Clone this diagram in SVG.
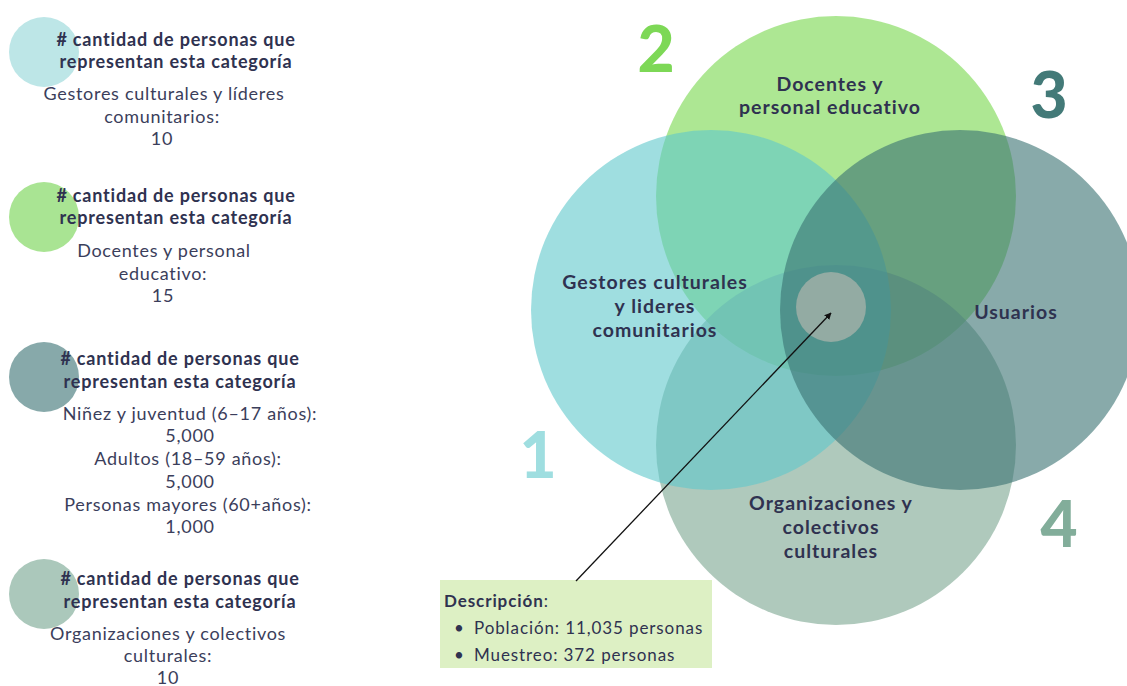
<svg xmlns="http://www.w3.org/2000/svg" width="1127" height="686" viewBox="0 0 1127 686">
<style>
.hdr{font-family:Lato,"Liberation Sans",sans-serif;font-weight:700;font-size:18px;fill:#2f3250;text-anchor:middle;letter-spacing:0.8px}
.txt{font-family:Lato,"Liberation Sans",sans-serif;font-size:18px;fill:#3b3e5b;text-anchor:middle;letter-spacing:0.7px}
.lbl{font-family:Lato,"Liberation Sans",sans-serif;font-weight:700;font-size:19.5px;fill:#2f3250;text-anchor:middle;letter-spacing:1px}
.num{font-family:Lato,"Liberation Sans",sans-serif;font-weight:900;font-size:64px;text-anchor:middle}
.ell{fill-opacity:0.6}
.desc{font-family:Lato,"Liberation Sans",sans-serif;font-size:17px;fill:#2f3250;letter-spacing:0.9px}
</style>
<defs>
<marker id="ah" viewBox="0 0 10 10" refX="9" refY="5" markerWidth="7" markerHeight="7" orient="auto-start-reverse" markerUnits="userSpaceOnUse">
<path d="M0,0 L10,5 L0,10 z" fill="#111"/>
</marker>
</defs>
<rect width="1127" height="686" fill="#ffffff"/>

<g id="legend1">
<circle cx="44" cy="52" r="35" fill="#bde6e7"/>
<text class="hdr" x="176" y="46">#  cantidad de personas que</text>
<text class="hdr" x="176" y="68">representan esta categoría</text>
<text class="txt" x="164" y="100">Gestores culturales y líderes</text>
<text class="txt" x="162" y="123">comunitarios:</text>
<text class="txt" x="162" y="145">10</text>
</g>
<g id="legend2">
<circle cx="44" cy="217" r="35" fill="#a9e493"/>
<text class="hdr" x="176" y="202">#  cantidad de personas que</text>
<text class="hdr" x="176" y="224">representan esta categoría</text>
<text class="txt" x="164" y="257">Docentes y personal</text>
<text class="txt" x="163" y="280">educativo:</text>
<text class="txt" x="163" y="302">15</text>
</g>
<g id="legend3">
<circle cx="44" cy="377" r="35" fill="#87a9aa"/>
<text class="hdr" x="180" y="365">#  cantidad de personas que</text>
<text class="hdr" x="180" y="388">representan esta categoría</text>
<text class="txt" x="190" y="420">Niñez y juventud (6–17 años):</text>
<text class="txt" x="190" y="442">5,000</text>
<text class="txt" x="188" y="465">Adultos (18–59 años):</text>
<text class="txt" x="190" y="488">5,000</text>
<text class="txt" x="188" y="511">Personas mayores (60+años):</text>
<text class="txt" x="190" y="533">1,000</text>
</g>
<g id="legend4">
<circle cx="44" cy="594" r="35" fill="#abc8bb"/>
<text class="hdr" x="180" y="585">#  cantidad de personas que</text>
<text class="hdr" x="180" y="608">representan esta categoría</text>
<text class="txt" x="168" y="640">Organizaciones y colectivos</text>
<text class="txt" x="168" y="662">culturales:</text>
<text class="txt" x="168" y="684">10</text>
</g>

<g id="venn-docentes">
<circle class="ell" cx="836" cy="196" r="180" fill="#76d74b"/>
</g>
<g id="venn-organizaciones">
<circle class="ell" cx="836" cy="445" r="180" fill="#7aa58f"/>
</g>
<g id="venn-gestores">
<circle class="ell" cx="711" cy="310" r="180" fill="#5fc8cb"/>
</g>
<g id="venn-usuarios">
<circle class="ell" cx="960" cy="310" r="180" fill="#397171"/>
</g>
<g id="center">
<circle cx="831" cy="307" r="35" fill="#93aba3"/>
</g>

<g id="labels">
<text class="lbl" x="655" y="289">Gestores culturales</text>
<text class="lbl" x="655" y="313">y lideres</text>
<text class="lbl" x="655" y="337">comunitarios</text>
<text class="lbl" x="830" y="91">Docentes y</text>
<text class="lbl" x="830" y="114">personal educativo</text>
<text class="lbl" x="1016" y="319">Usuarios</text>
<text class="lbl" x="831" y="510">Organizaciones y</text>
<text class="lbl" x="831" y="534">colectivos</text>
<text class="lbl" x="831" y="558">culturales</text>
</g>

<g id="numbers">
<text class="num" x="538" y="478" fill="#9fdee0">1</text>
<text class="num" x="656" y="72" fill="#7dd856">2</text>
<text class="num" x="1049" y="118" fill="#437a78">3</text>
<text class="num" x="1059" y="547" fill="#82ad9a">4</text>
</g>

<g id="descripcion">
<rect x="440" y="580" width="272" height="88" fill="#ddf0c4"/>
<text class="desc" x="444" y="607"><tspan font-weight="700">Descripción</tspan>:</text>
<text class="desc" x="454" y="634">•</text>
<text class="desc" x="474" y="634">Población: 11,035 personas</text>
<text class="desc" x="454" y="661">•</text>
<text class="desc" x="474" y="661">Muestreo: 372 personas</text>
</g>

<g id="connectors">
<line x1="576" y1="581" x2="831" y2="313" stroke="#111" stroke-width="1.3" marker-end="url(#ah)"/>
</g>
</svg>
